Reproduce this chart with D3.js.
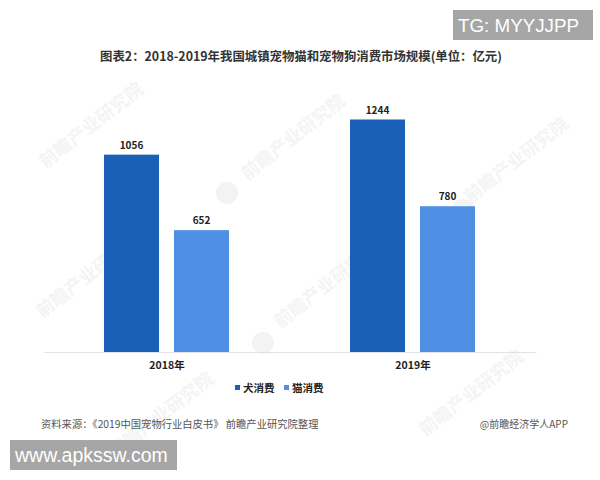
<!DOCTYPE html>
<html><head><meta charset="utf-8">
<script src="https://d3js.org/d3.v7.min.js"></script>
<style>html,body{margin:0;padding:0;background:#fff}svg{display:block}
text{font-family:"Noto Sans CJK SC","Liberation Sans",sans-serif}</style></head>
<body><div id="c"></div>
<script>
const years = ["2018年","2019年"];
const seriesNames = ["犬消费","猫消费"];
const dogValues = [1056,1244];
const catValues = [652,780];
const seriesColors = ["#1a5fb8","#5090e4"];
const titleText = "图表2：2018-2019年我国城镇宠物猫和宠物狗消费市场规模(单位：亿元)";
const sourceText = "资料来源：《2019中国宠物行业白皮书》 前瞻产业研究院整理";
const creditText = "@前瞻经济学人APP";
const watermarkText = "前瞻产业研究院";
const watermarkSpots = [[95,130],[297,142],[520,165],[92,280],[330,290],[165,420],[475,398]];
const logoSpots = [[227,193],[263,343],[463,210]];

const W=600,H=480;
const svg=d3.select("#c").append("svg").attr("width",W).attr("height",H);
const m={l:44,r:536,t:119.5,b:352};
const y=d3.scaleLinear().domain([0,1244]).range([m.b,m.t]);
const x0=d3.scaleBand().domain(years).range([m.l,m.r]);
const x1=d3.scaleBand().domain(seriesNames).range([60,185]).paddingInner(0.214).paddingOuter(0);

// watermark
svg.append("g").selectAll("text").data(watermarkSpots).join("text")
 .attr("transform",d=>`translate(${d[0]},${d[1]}) rotate(-38)`)
 .attr("text-anchor","middle").attr("font-size",18).attr("font-weight",700)
 .attr("fill","#f4f4f4").text(watermarkText);
svg.append("g").selectAll("circle").data(logoSpots).join("circle")
 .attr("cx",d=>d[0]).attr("cy",d=>d[1]).attr("r",11).attr("fill","#f3f3f3");

// axis
const ax=svg.append("g").attr("transform",`translate(0,${m.b})`).call(d3.axisBottom(x0).tickSize(0).tickPadding(10));
ax.select(".domain").attr("stroke","#dfe2e6").attr("stroke-width",1);
ax.selectAll("text").attr("font-size",10.5).attr("font-weight",700).attr("fill","#222")
  .style("font-family",'"Noto Sans CJK SC",sans-serif');

// bars
const rows=years.map((yr,i)=>[{k:seriesNames[0],v:dogValues[i],c:seriesColors[0],yr},{k:seriesNames[1],v:catValues[i],c:seriesColors[1],yr}]);
const g=svg.append("g").selectAll("g").data(rows).join("g").attr("transform",d=>`translate(${x0(d[0].yr)},0)`);
g.selectAll("rect").data(d=>d).join("rect")
 .attr("x",d=>x1(d.k)).attr("width",x1.bandwidth())
 .attr("y",d=>y(d.v)).attr("height",d=>m.b-y(d.v)).attr("fill",d=>d.c);
g.selectAll("text.v").data(d=>d).join("text").attr("class","v")
 .attr("x",d=>x1(d.k)+x1.bandwidth()/2).attr("y",d=>y(d.v)-6)
 .attr("text-anchor","middle").attr("font-size",10).attr("font-weight",700).attr("fill","#222")
 .text(d=>d.v);

// title
svg.append("text").attr("x",301).attr("y",61).attr("text-anchor","middle")
 .attr("font-size",12.4).attr("font-weight",700).attr("fill","#333").text(titleText);

// legend
const lx=[235,284];
seriesNames.forEach((n,i)=>{
 svg.append("rect").attr("x",lx[i]).attr("y",385).attr("width",5).attr("height",5).attr("fill",seriesColors[i]);
 svg.append("text").attr("x",lx[i]+8).attr("y",392).attr("font-size",10.5).attr("font-weight",700).attr("fill","#222").text(n);
});

// footer
svg.append("text").attr("x",41).attr("y",428).attr("font-size",10.3).attr("fill","#555").text(sourceText);
svg.append("text").attr("x",568).attr("y",428).attr("text-anchor","end").attr("font-size",10).attr("fill","#555").text(creditText);

// overlay stamps
function stamp(x,y,w,h,t,fs){
 svg.append("rect").attr("x",x).attr("y",y).attr("width",w).attr("height",h).attr("fill","#a6a6a6");
 svg.append("text").attr("x",x+5).attr("y",y+h/2+fs*0.36).attr("font-size",fs).attr("fill","#fff")
  .style("font-family",'"Liberation Sans",sans-serif').text(t);
}
stamp(453,10,140,30,"TG: MYYJJPP",18.8);
stamp(10,440,167,30,"www.apkssw.com",19.5);
</script></body></html>
